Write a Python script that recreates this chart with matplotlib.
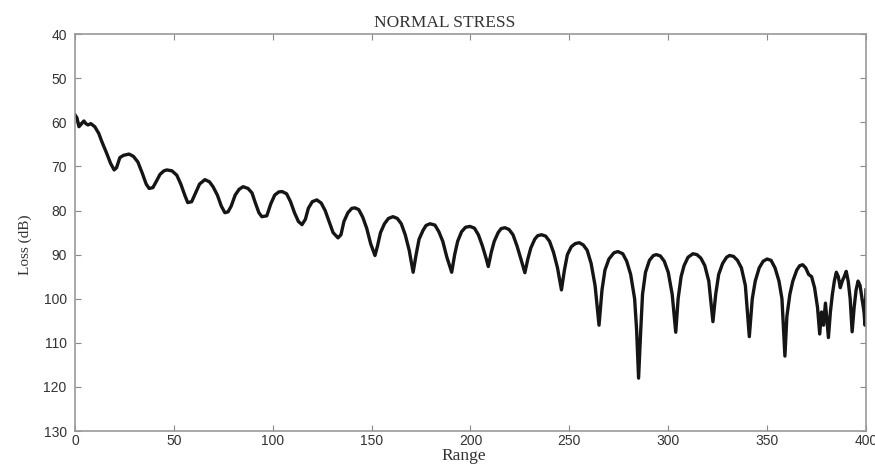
import matplotlib
matplotlib.use("Agg")
import matplotlib.pyplot as plt

# transmission loss vs range
range_pts = [
    0, 1, 2, 3, 4.5, 5.5, 6.6, 8, 10, 12, 13.6, 16, 18, 19.8, 21, 22.7, 24.5, 27.3, 29.5, 31.8,
    34, 36, 37.5, 39.4, 41, 43, 45, 46.5, 49, 51.5, 53.5, 55.5, 57, 59, 61, 63, 65.7, 68, 69.8, 72,
    74, 75.8, 77.4, 79, 81, 83, 85, 87.5, 89.5, 91, 93, 94.5, 97, 99, 101, 103, 104.7, 107, 109, 111,
    113, 114.8, 116.5, 118, 120, 122.3, 124.5, 126.5, 128.5, 130.5, 133, 134.5, 136, 138, 140, 141.6,
    143.5, 145.5, 147.5, 149.5, 151.7, 153, 154.5, 156.5, 158.5, 160.8, 163, 165, 167, 169, 171,
    172.5, 174, 176, 177.5, 179.5, 182, 184, 186, 188, 190.5, 192, 193.5, 195.5, 197.5, 199.7, 202,
    204, 206, 208, 209, 210.5, 212, 214, 215.5, 217.4, 219.5, 221.5, 223.5, 225.5, 227.5, 229, 230.5,
    232.5, 234, 236, 238, 240, 242, 244, 246, 247.5, 249, 251, 253, 255, 257, 259, 261, 263, 265,
    266.5, 268, 270, 272.5, 274.5, 277, 279, 281, 283, 284, 285, 286, 287, 288.5, 290.5, 292.5, 294,
    296, 298, 300, 302, 303.8, 305, 306.5, 308, 310, 312.5, 314.5, 316.5, 318.5, 320.5, 322.6, 324,
    325.5, 327.5, 329.5, 331, 333, 335, 337, 339, 341, 342.5, 344, 346, 348, 350, 352, 354, 356,
    357.5, 359, 360, 361.5, 363, 365, 366.5, 368, 369.5, 371, 372.5, 374, 375.5, 376.6, 377.5, 378.5,
    379.5, 381, 382, 383, 384, 385, 386, 387, 388, 389, 390, 391, 392, 393, 394, 395, 396, 397, 398,
    399, 399.5, 400,
]
loss_db = [
    58.3, 59, 61, 60.5, 59.7, 60.3, 60.6, 60.3, 61, 62.5, 64.4, 67, 69.3, 70.8, 70.3, 68, 67.5, 67.2, 67.7, 69,
    71.5, 74, 75, 74.8, 73.5, 71.8, 71, 70.8, 71, 72, 74, 76.5, 78.2, 78, 76, 74, 73, 73.5, 74.6, 76.5,
    79, 80.5, 80.3, 79, 76.5, 75.2, 74.6, 75, 76, 78, 80.5, 81.4, 81.2, 78.5, 76.5, 75.8, 75.7, 76.2, 78, 80.5,
    82.5, 83.2, 82, 79.5, 78, 77.6, 78.3, 80, 82.5, 85, 86.2, 85.5, 82.5, 80.5, 79.5, 79.4,
    79.8, 81.5, 84, 87.5, 90.2, 88, 85, 83, 81.8, 81.4, 81.8, 83, 85.5, 89, 94,
    90, 86.5, 84.5, 83.4, 83, 83.3, 84.8, 87, 90.5, 94, 90, 87, 84.8, 83.8, 83.6, 84,
    85.5, 88, 91, 92.7, 89.5, 87, 85, 84.1, 83.9, 84.3, 85.5, 88, 91, 94.1, 91, 88.5,
    86.5, 85.7, 85.5, 85.8, 87, 89.5, 93, 98, 93.5, 90, 88.2, 87.5, 87.3, 87.8, 89, 92, 97, 106,
    98, 93.5, 91, 89.6, 89.3, 89.8, 91.5, 94.5, 100, 107, 118, 108, 99, 94, 91.3, 90.2, 90,
    90.3, 91.5, 94, 99, 107.6, 100, 95, 92.5, 90.6, 89.8, 90, 90.8, 92.5, 96, 105.2, 99,
    94.5, 92, 90.6, 90.2, 90.4, 91.3, 93, 97, 108.6, 100, 96, 93, 91.5, 91, 91.3, 93, 96,
    100, 113, 104, 99, 96, 93.5, 92.5, 92.3, 93, 94.5, 95, 97.5, 102, 108, 103, 106,
    101, 108.8, 103, 99, 96, 94, 95, 97.5, 96, 95, 93.8, 96, 100, 107.5, 102, 98, 96, 97, 100,
    103, 106, 98,
]

x_ticks = [0, 50, 100, 150, 200, 250, 300, 350, 400]
y_ticks = [40, 50, 60, 70, 80, 90, 100, 110, 120, 130]

fig = plt.figure(figsize=(8.75, 4.67), dpi=100)
ax = fig.add_axes([0.0857, 0.077, 0.904, 0.850])

ax.plot(range_pts, loss_db, color="#151515", lw=2.4, solid_joinstyle="round")

ax.set_xlim(0, 400)
ax.set_ylim(130, 40)
ax.set_xticks(x_ticks)
ax.set_yticks(y_ticks)
ax.tick_params(direction="in", top=True, right=True, length=4, width=0.8,
               colors="#888888", labelcolor="#333333", labelsize=10)
ax.tick_params(axis="x", pad=2)
ax.tick_params(axis="y", pad=6)
for lbl in ax.get_xticklabels() + ax.get_yticklabels():
    lbl.set_family("Liberation Sans")
for sp in ax.spines.values():
    sp.set_color("#999999")
    sp.set_linewidth(1.2)

serif = "Liberation Serif"
ax.set_title("NORMAL STRESS", family=serif, fontsize=12.5, color="#333333", pad=5)
ax.title.set_x(0.468)
ax.set_xlabel("Range", family=serif, fontsize=12.5, color="#333333", labelpad=0)
ax.xaxis.label.set_x(0.492)
ax.set_ylabel("Loss (dB)", family=serif, fontsize=11, color="#333333", labelpad=8)
ax.yaxis.label.set_y(0.47)

fig.savefig("out.png", dpi=100)
